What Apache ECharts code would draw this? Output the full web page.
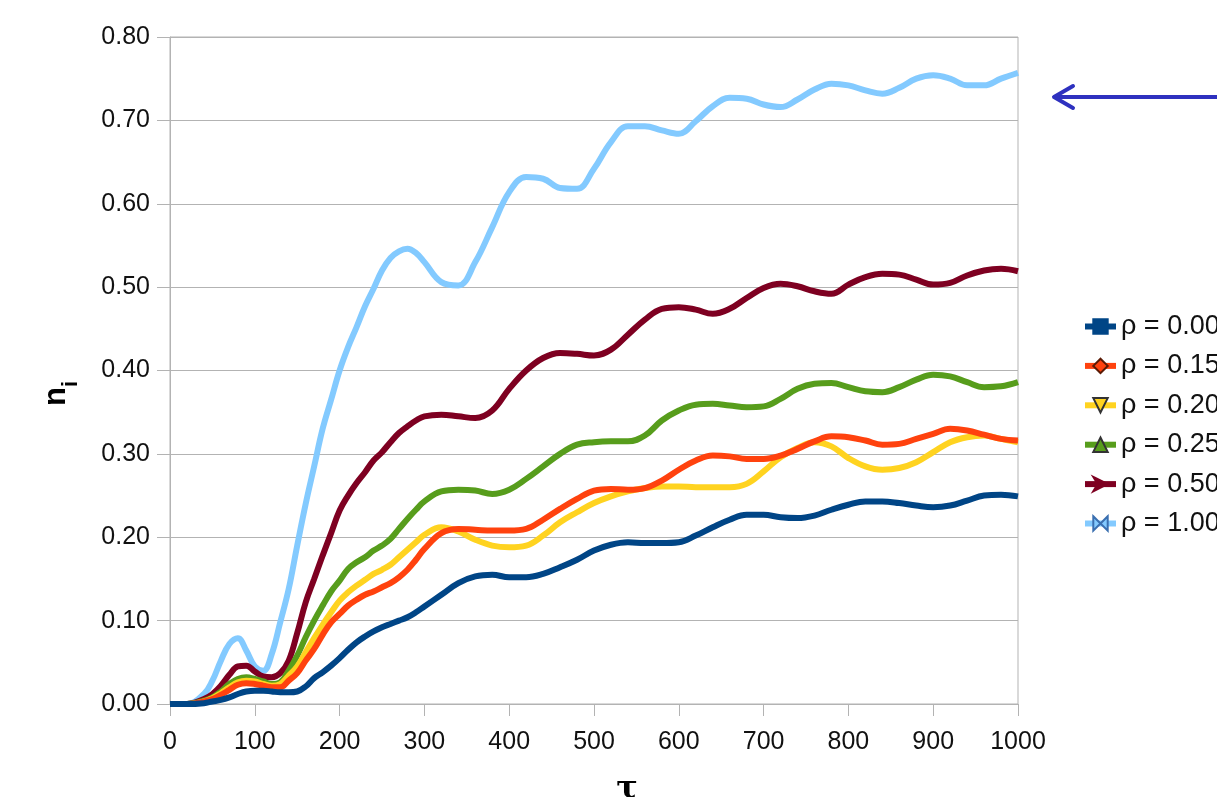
<!DOCTYPE html>
<html>
<head>
<meta charset="utf-8">
<script src="https://cdn.jsdelivr.net/npm/echarts@6/dist/echarts.min.js"></script>
<style>html,body{margin:0;padding:0;background:#fff;}#c{width:1217px;height:797px;}</style>
</head>
<body>
<div id="c"></div>
<script>
var tau = [0,20,40,50,60,70,80,90,100,110,120,130,140,150,160,170,180,190,200,210,220,230,240,250,260,270,280,290,300,320,340,360,380,400,420,440,460,480,500,520,540,560,580,600,620,640,660,680,700,720,740,760,780,800,820,840,860,880,900,920,940,960,980,1000];

var rho000 = [0,0,0.001,0.003,0.005,0.008,0.012,0.015,0.016,0.016,0.015,0.014,0.014,0.015,0.021,0.031,0.038,0.046,0.055,0.065,0.074,0.081,0.087,0.092,0.096,0.100,0.104,0.110,0.117,0.131,0.145,0.153,0.155,0.152,0.152,0.156,0.164,0.173,0.184,0.191,0.194,0.193,0.193,0.194,0.202,0.212,0.221,0.227,0.227,0.224,0.223,0.226,0.233,0.239,0.243,0.243,0.241,0.238,0.236,0.238,0.244,0.250,0.251,0.249];

var rho015 = [0,0,0.003,0.006,0.011,0.017,0.023,0.025,0.024,0.022,0.020,0.020,0.028,0.037,0.052,0.066,0.083,0.098,0.108,0.118,0.125,0.131,0.135,0.140,0.145,0.152,0.161,0.173,0.186,0.205,0.210,0.209,0.208,0.208,0.210,0.221,0.234,0.246,0.256,0.258,0.257,0.259,0.268,0.281,0.292,0.298,0.297,0.294,0.294,0.298,0.306,0.315,0.321,0.320,0.316,0.311,0.312,0.318,0.324,0.330,0.328,0.323,0.318,0.316];

var rho020 = [0,0,0.003,0.007,0.013,0.020,0.026,0.028,0.027,0.024,0.022,0.024,0.034,0.045,0.062,0.079,0.095,0.110,0.124,0.134,0.142,0.149,0.156,0.161,0.167,0.176,0.185,0.194,0.203,0.212,0.207,0.197,0.190,0.188,0.190,0.202,0.218,0.230,0.241,0.249,0.255,0.259,0.261,0.261,0.260,0.260,0.260,0.264,0.279,0.296,0.307,0.314,0.309,0.295,0.285,0.281,0.283,0.290,0.302,0.314,0.320,0.322,0.318,0.314];

var rho025 = [0,0,0.004,0.008,0.015,0.024,0.030,0.032,0.030,0.027,0.024,0.026,0.040,0.058,0.080,0.100,0.118,0.135,0.148,0.162,0.170,0.176,0.184,0.190,0.198,0.210,0.222,0.233,0.243,0.255,0.257,0.256,0.252,0.257,0.270,0.285,0.300,0.311,0.314,0.315,0.315,0.322,0.340,0.352,0.359,0.360,0.358,0.356,0.357,0.366,0.378,0.384,0.385,0.380,0.375,0.374,0.380,0.389,0.395,0.393,0.386,0.380,0.381,0.386];

var rho050 = [0,0,0.006,0.012,0.022,0.035,0.045,0.046,0.039,0.033,0.032,0.037,0.052,0.085,0.122,0.150,0.178,0.205,0.232,0.250,0.265,0.278,0.292,0.302,0.314,0.325,0.333,0.340,0.345,0.347,0.345,0.343,0.352,0.378,0.400,0.415,0.421,0.420,0.418,0.425,0.443,0.461,0.474,0.476,0.473,0.468,0.474,0.487,0.499,0.504,0.501,0.495,0.492,0.503,0.512,0.516,0.515,0.509,0.503,0.505,0.514,0.520,0.522,0.519];

var rho100 = [0,0,0.012,0.028,0.052,0.072,0.079,0.064,0.045,0.040,0.060,0.098,0.138,0.190,0.240,0.285,0.330,0.365,0.400,0.428,0.452,0.477,0.498,0.520,0.535,0.543,0.546,0.541,0.530,0.506,0.502,0.530,0.572,0.614,0.632,0.630,0.619,0.618,0.642,0.674,0.693,0.693,0.688,0.684,0.699,0.717,0.727,0.726,0.719,0.716,0.725,0.737,0.744,0.742,0.736,0.732,0.739,0.750,0.754,0.750,0.742,0.742,0.750,0.757];

var seriesNames = ['ρ = 0.00','ρ = 0.15','ρ = 0.20','ρ = 0.25','ρ = 0.50','ρ = 1.00'];
var seriesValues = [rho000, rho015, rho020, rho025, rho050, rho100];
var seriesColors = ['#004586','#ff420e','#ffd320','#579d1c','#7e0021','#83caff'];
var seriesBorders = ['#004586','#5a1a05','#333333','#333333','#7e0021','#3a6fb0'];
var seriesSymbols = ['rect','diamond','triangle','triangle','path://M0,0 L10,5 L0,10 L3,5 Z','path://M0,0 L5,5 L0,10 Z M10,0 L5,5 L10,10 Z'];
var seriesRotate = [0,0,180,0,0,0];

var xTicks = [0,100,200,300,400,500,600,700,800,900,1000];
var yTicks = [0,0.1,0.2,0.3,0.4,0.5,0.6,0.7,0.8];

var chart = echarts.init(document.getElementById('c'), null, {renderer:'canvas'});
var font = '"Liberation Sans", Arial, sans-serif';
var series = seriesNames.map(function(name, i){
  return {
    name: name,
    type: 'line',
    data: tau.map(function(t, k){ return [t, seriesValues[i][k]]; }),
    smooth: 0.4,
    showSymbol: false,
    symbol: seriesSymbols[i],
    symbolRotate: seriesRotate[i],
    z: 10 - i,
    lineStyle: {width: 6, color: seriesColors[i]},
    itemStyle: {color: seriesColors[i], borderColor: seriesBorders[i], borderWidth: 1},
    emphasis: {disabled: true},
    animation: false
  };
});

chart.setOption({
  backgroundColor: '#ffffff',
  animation: false,
  grid: {left: 170, right: 199, top: 37, bottom: 93, show: true, borderColor: '#b3b3b3', borderWidth: 1, containLabel: false, outerBoundsMode: 'none'},
  legend: {
    orient: 'vertical',
    left: 1077,
    top: 308,
    itemWidth: 31,
    itemHeight: 18,
    itemGap: 12.4,
    data: seriesNames,
    lineStyle: {width: 6},
    textStyle: {fontFamily: font, fontSize: 27, color: '#111'},
    selectedMode: false
  },
  xAxis: {
    type: 'value',
    min: 0, max: 1000, interval: 100,
    name: 'τ',
    nameLocation: 'middle',
    nameGap: 70,
    nameTextStyle: {fontFamily: '"DejaVu Serif", "Liberation Serif", serif', fontSize: 32, fontWeight: 'bold', color: '#000', padding: [0,0,0,66]},
    axisLine: {show: true, lineStyle: {color: '#b3b3b3', width: 1}},
    axisTick: {show: true, inside: false, length: 12, lineStyle: {color: '#b3b3b3'}},
    axisLabel: {fontFamily: font, fontSize: 25, color: '#111', margin: 26, formatter: function(v){ return xTicks.indexOf(v) >= 0 ? String(v) : ''; }},
    splitLine: {show: false}
  },
  yAxis: {
    type: 'value',
    min: 0, max: 0.8, interval: 0.1,
    name: '{n|n}{i|i}',
    nameLocation: 'middle',
    nameRotate: 90,
    nameGap: 98,
    nameTextStyle: {
      padding: [0,46,0,0],
      rich: {
        n: {fontFamily: font, fontSize: 31, fontWeight: 'bold', color: '#000'},
        i: {fontFamily: font, fontSize: 22, fontWeight: 'bold', color: '#000', verticalAlign: 'bottom', padding: [0,0,-10,0]}
      }
    },
    axisLine: {show: true, lineStyle: {color: '#b3b3b3', width: 1}},
    axisTick: {show: true, inside: false, length: 13, lineStyle: {color: '#b3b3b3'}},
    axisLabel: {fontFamily: font, fontSize: 25, color: '#111', margin: 20, formatter: function(v){ return v.toFixed(2); }},
    splitLine: {show: true, lineStyle: {color: '#b3b3b3', width: 1}}
  },
  graphic: [
    {type: 'line', shape: {x1: 1217, y1: 97, x2: 1054, y2: 97}, style: {stroke: '#2e31bf', lineWidth: 4}},
    {type: 'polyline', shape: {points: [[1073, 86], [1054, 97], [1073, 108]]}, style: {stroke: '#2e31bf', lineWidth: 4, lineCap: 'round', lineJoin: 'round', fill: null}}
  ],
  series: series
});
</script>
</body>
</html>
